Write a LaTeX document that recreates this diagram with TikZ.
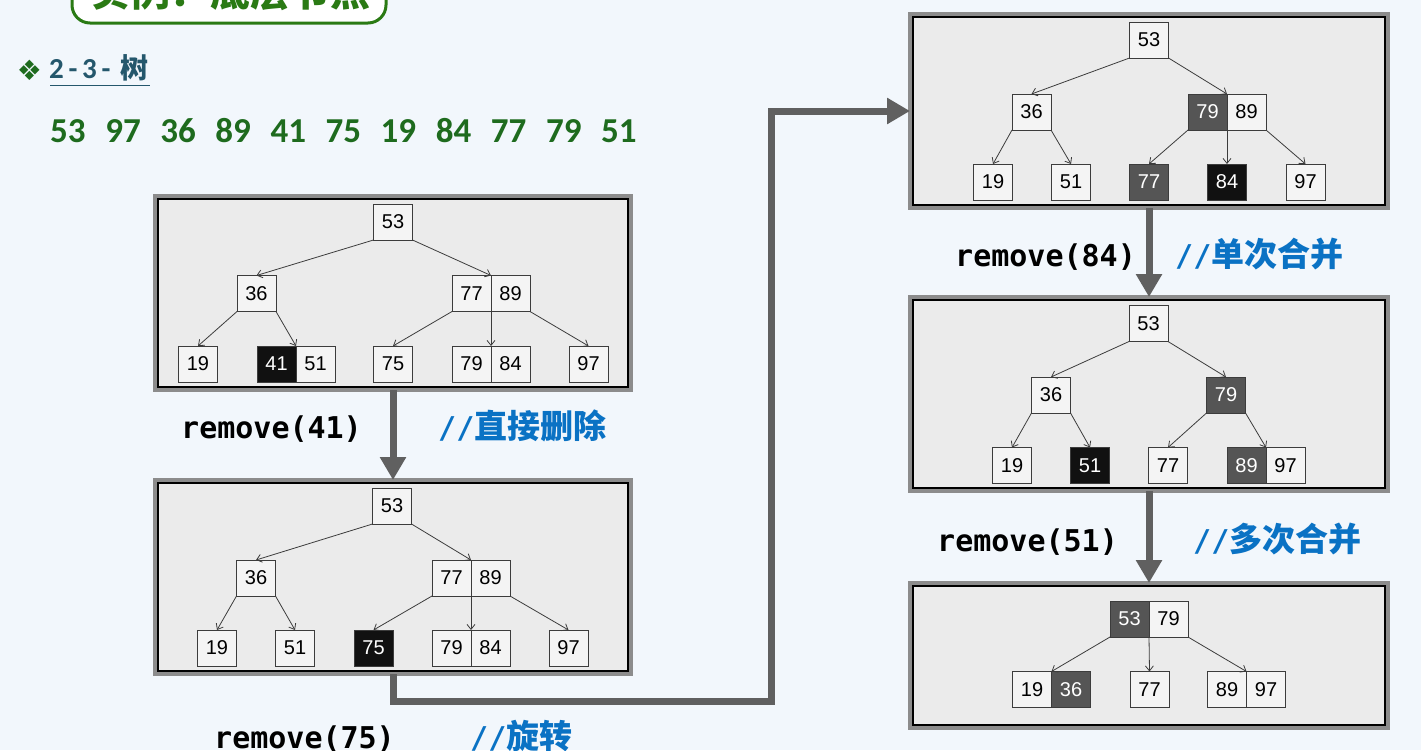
\documentclass[tikz,border=0pt]{standalone}
\usepackage{fontspec}
\usetikzlibrary{arrows.meta}
\newfontfamily\keyfont{Liberation Sans}
\newfontfamily\monof{DejaVu Sans Mono}
\newfontfamily\cjk{Noto Sans CJK SC}
\newfontfamily\calib{Carlito}
\newfontfamily\symf{DejaVu Sans}
\definecolor{bgc}{HTML}{F2F7FC}
\definecolor{panelfill}{HTML}{EBEBEB}
\definecolor{panelgrey}{HTML}{8C8C8C}
\definecolor{keyfill}{HTML}{F4F4F4}
\definecolor{keyline}{HTML}{3C3C3C}
\definecolor{dkgrey}{HTML}{555555}
\definecolor{blk}{HTML}{111111}
\definecolor{bigc}{HTML}{606060}
\definecolor{green1}{HTML}{1E6B1E}
\definecolor{green2}{HTML}{2A7A14}
\definecolor{teal1}{HTML}{24576C}
\definecolor{blue1}{HTML}{0A72C4}
\newcommand{\slashes}{{\monof\bfseries\fontsize{30}{36}\selectfont //}}
\newcommand{\cmtfont}{\cjk\bfseries\fontsize{33}{36}\selectfont}
\tikzset{
  panel/.style={draw=panelgrey, line width=4pt, fill=panelfill, minimum width=#1, inner sep=0pt, outer sep=0pt},
  keybox/.style={draw=keyline, line width=1pt, fill=keyfill, minimum width=39pt, minimum height=36pt,
     inner sep=0pt, outer sep=0pt, font=\keyfont\fontsize{20}{20}\selectfont, text=black},
  dkbox/.style={keybox, fill=dkgrey, text=white},
  bkbox/.style={keybox, fill=blk, text=white},
  tedge/.style={draw=keyline, line width=0.8pt, -{Straight Barb[length=5pt,width=8pt]}},
  bigarrow/.style={draw=bigc, line width=7pt, line join=miter, -{Triangle[length=23pt,width=25pt]}},
  codetxt/.style={anchor=base west, inner sep=0pt, text=black, font=\monof\bfseries\fontsize{30}{36}\selectfont},
  cmttxt/.style={anchor=base west, inner sep=0pt, text=blue1},
}
\begin{document}
\begin{tikzpicture}[x=1pt,y=-1pt]
\useasboundingbox (0,0) rectangle (1421,750);
\fill[bgc] (0,0) rectangle (1421,750);

% title box (cut off at top)
\node[draw=green2, line width=3pt, fill=white, rounded corners=18pt, minimum width=314pt, minimum height=60pt, inner sep=0pt] (tbox) at (229,-7) {};
\node[anchor=base, inner sep=0pt, text=green2, font=\cjk\bfseries\fontsize{40}{40}\selectfont] (ttext) at (230,6) {实例：底层节点};

% heading
\node[inner sep=0pt, text=green1, font=\symf\fontsize{28}{28}\selectfont] (bul) at (29.5,70) {❖};
\node[anchor=base west, inner sep=0pt, text=teal1] (hd) at (48,78)
  {\calib\bfseries\fontsize{29}{29}\selectfont\makebox[16.5pt]{2}\makebox[16.5pt]{-}\makebox[16.5pt]{3}\makebox[16.5pt]{-}\hspace{6pt}{\cjk\bfseries\fontsize{28}{28}\selectfont 树}};
\draw[teal1, line width=1.8pt] (50,85.5) -- (150,85.5);
\node[anchor=base west, inner sep=0pt, text=green1, font=\calib\bfseries\fontsize{35}{35}\selectfont] (seq) at (50,142)
  {53\hspace{19.6pt}97\hspace{19.6pt}36\hspace{19.6pt}89\hspace{19.6pt}41\hspace{19.6pt}75\hspace{19.6pt}19\hspace{19.6pt}84\hspace{19.6pt}77\hspace{19.6pt}79\hspace{19.6pt}51};

% panels
\node[panel=476pt, minimum height=194pt] (pA) at (393,293) {};
\node[panel=476pt, minimum height=194pt] (pB) at (393,577) {};
\node[panel=478pt, minimum height=194pt] (pC) at (1149,111) {};
\node[panel=478pt, minimum height=194pt] (pD) at (1149,394) {};
\node[panel=478pt, minimum height=145pt] (pE) at (1149,655.5) {};
\foreach \p in {pA,pB,pC,pD,pE}
  \draw[line width=2pt, black] ([shift={(3,3)}]\p.north west) rectangle ([shift={(-3,-3)}]\p.south east);

% panel A
\node[keybox] (a53) at (393,222) {53};
\node[keybox] (a36) at (256.5,293.5) {36};
\node[keybox] (a77) at (471.5,293.5) {77};
\node[keybox] (a89) at (510.5,293.5) {89};
\node[keybox] (a19) at (198,364) {19};
\node[bkbox] (a41) at (276.5,364) {41};
\node[keybox] (a51) at (315.5,364) {51};
\node[keybox] (a75) at (393,364) {75};
\node[keybox] (a79) at (471.5,364) {79};
\node[keybox] (a84) at (510.5,364) {84};
\node[keybox] (a97) at (588.5,364) {97};
\draw[tedge] (a53.south west) -- (a36.north);
\draw[tedge] (a53.south east) -- (a77.north east);
\draw[tedge] (a36.south west) -- (a19.north);
\draw[tedge] (a36.south east) -- (a41.north east);
\draw[tedge] (a77.south west) -- (a75.north);
\draw[tedge] (a77.south east) -- (a79.north east);
\draw[tedge] (a89.south east) -- (a97.north);

% panel B
\node[keybox] (b53) at (392,506) {53};
\node[keybox] (b36) at (256,578) {36};
\node[keybox] (b77) at (451.5,578) {77};
\node[keybox] (b89) at (490.5,578) {89};
\node[keybox] (b19) at (217,648) {19};
\node[keybox] (b51) at (295,648) {51};
\node[bkbox] (b75) at (373.5,648) {75};
\node[keybox] (b79) at (451.5,648) {79};
\node[keybox] (b84) at (490.5,648) {84};
\node[keybox] (b97) at (568.5,648) {97};
\draw[tedge] (b53.south west) -- (b36.north);
\draw[tedge] (b53.south east) -- (b77.north east);
\draw[tedge] (b36.south west) -- (b19.north);
\draw[tedge] (b36.south east) -- (b51.north);
\draw[tedge] (b77.south west) -- (b75.north);
\draw[tedge] (b77.south east) -- (b79.north east);
\draw[tedge] (b89.south east) -- (b97.north);

% panel C
\node[keybox] (c53) at (1149,40) {53};
\node[keybox] (c36) at (1031.5,112) {36};
\node[dkbox] (c79) at (1207.5,112) {79};
\node[keybox] (c89) at (1246.5,112) {89};
\node[keybox] (c19) at (993,182) {19};
\node[keybox] (c51) at (1071,182) {51};
\node[dkbox] (c77) at (1149,182) {77};
\node[bkbox] (c84) at (1227,182) {84};
\node[keybox] (c97) at (1305.5,182) {97};
\draw[tedge] (c53.south west) -- (c36.north);
\draw[tedge] (c53.south east) -- (c79.north east);
\draw[tedge] (c36.south west) -- (c19.north);
\draw[tedge] (c36.south east) -- (c51.north);
\draw[tedge] (c79.south west) -- (c77.north);
\draw[tedge] (c79.south east) -- (c84.north);
\draw[tedge] (c89.south east) -- (c97.north);

% panel D
\node[keybox] (d53) at (1148.5,323.5) {53};
\node[keybox] (d36) at (1051,395) {36};
\node[dkbox] (d79) at (1226,395) {79};
\node[keybox] (d19) at (1012,465.5) {19};
\node[bkbox] (d51) at (1090,465.5) {51};
\node[keybox] (d77) at (1168,465.5) {77};
\node[dkbox] (d89) at (1246.5,465.5) {89};
\node[keybox] (d97) at (1285.5,465.5) {97};
\draw[tedge] (d53.south west) -- (d36.north);
\draw[tedge] (d53.south east) -- (d79.north);
\draw[tedge] (d36.south west) -- (d19.north);
\draw[tedge] (d36.south east) -- (d51.north);
\draw[tedge] (d79.south west) -- (d77.north);
\draw[tedge] (d79.south east) -- (d89.north east);

% panel E
\node[dkbox] (e53) at (1129.5,619) {53};
\node[keybox] (e79) at (1168.5,619) {79};
\node[keybox] (e19) at (1032,689.5) {19};
\node[dkbox] (e36) at (1071,689.5) {36};
\node[keybox] (e77) at (1149.5,689.5) {77};
\node[keybox] (e89) at (1227,689.5) {89};
\node[keybox] (e97) at (1266,689.5) {97};
\draw[tedge] (e53.south west) -- (e19.north east);
\draw[tedge] (e53.south east) -- (e77.north);
\draw[tedge] (e79.south east) -- (e89.north east);

% big arrows
\coordinate (k1) at (393,701);
\coordinate (k2) at (771,701);
\coordinate (k3) at (771,111);
\draw[bigarrow] (pA.south) -- (pB.north);
\draw[bigarrow] (pB.south) -- (k1) -- (k2) -- (k3) -- (pC.west);
\draw[bigarrow] (pC.south) -- (pD.north);
\draw[bigarrow] (pD.south) -- (pE.north);

% labels
\node[codetxt] (r41) at (181,438) {remove(41)};
\node[cmttxt] (m41) at (438,438) {\slashes\cmtfont 直接删除};
\node[codetxt] (r75) at (214,748) {remove(75)};
\node[cmttxt] (m75) at (470,748) {\slashes\cmtfont 旋转};
\node[codetxt] (r84) at (955,266) {remove(84)};
\node[cmttxt] (m84) at (1175,266) {\slashes\cmtfont 单次合并};
\node[codetxt] (r51) at (937,551) {remove(51)};
\node[cmttxt] (m51) at (1193,551) {\slashes\cmtfont 多次合并};
\end{tikzpicture}
\end{document}
